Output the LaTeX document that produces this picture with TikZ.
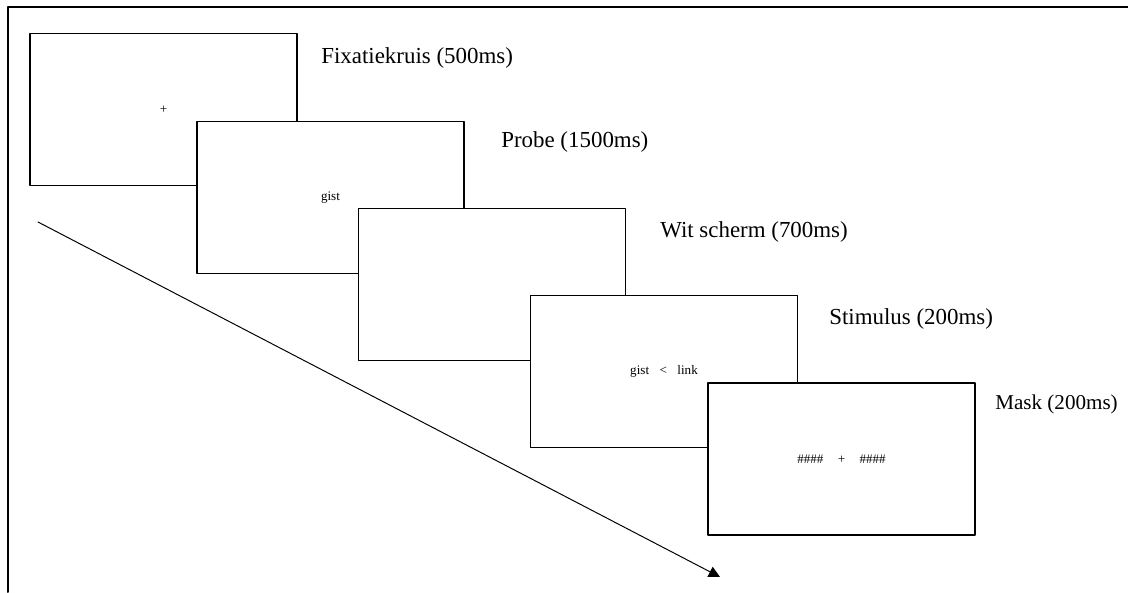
\documentclass[tikz,border=0pt]{standalone}
\usepackage{fontspec}
\setmainfont{Liberation Serif}
\usetikzlibrary{arrows.meta}
\tikzset{
	screen/.style={draw=black,fill=white,line width=0.8pt,minimum width=6.675cm,minimum height=3.8cm,inner sep=0pt,font=\fontsize{9.3}{11}\selectfont},
	steplabel/.style={anchor=base west,inner sep=0pt,font=\fontsize{16.3}{19}\selectfont}
}
\begin{document}
\begin{tikzpicture}[x=0.025cm,y=-0.025cm,line join=round,line cap=round]
	\useasboundingbox (0,0) rectangle (1128,592);
	% === kader ===
	\draw[line width=1.4pt] (8,592)--(8,7)--(1128,7);
	% === tijdas ===
	\coordinate (tstart) at (38,222);
	\coordinate (tend) at (720,577);
	\draw[line width=0.7pt,-{Triangle[length=8pt,width=8pt]}] (tstart)--(tend);
	% === schermen ===
	\node[screen] (scr1) at (163.5,109.5) {+};
	\node[steplabel] (lab1) at (321,63) {Fixatiekruis (500ms)};
	\node[screen] (scr2) at (330.5,197.5) {gist};
	\node[steplabel] (lab2) at (501,147) {Probe (1500ms)};
	\node[screen] (scr3) at (492,284.5) {};
	\node[steplabel] (lab3) at (660,237) {Wit scherm (700ms)};
	\node[screen] (scr4) at (664,371.5) {gist\hspace{0.8em}<\hspace{0.8em}link};
	\node[screen] (scr5) at (841.5,459) {\#\#\#\#\hspace{1.1em}+\hspace{1.1em}\#\#\#\#};
	\node[steplabel] (lab4) at (829,324) {Stimulus (200ms)};
	\node[steplabel,font=\fontsize{15}{18}\selectfont] (lab5) at (995,409) {Mask (200ms)};
\end{tikzpicture}
\end{document}
